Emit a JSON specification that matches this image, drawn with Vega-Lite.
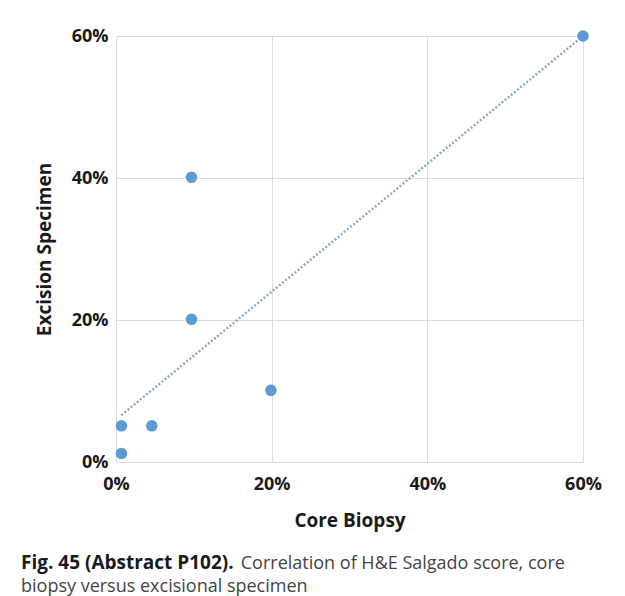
{
  "$schema": "https://vega.github.io/schema/vega-lite/v6.json",
  "width": 467,
  "height": 426,
  "autosize": "none",
  "padding": {"left": 116, "top": 36, "right": 42, "bottom": 134},
  "background": "white",
  "title": {
    "text": "Fig. 45 (Abstract P102).",
    "subtitle": ["\u200b\u00a0\u00a0\u00a0\u00a0\u00a0\u00a0\u00a0\u00a0\u00a0\u00a0\u00a0\u00a0\u00a0\u00a0\u00a0\u00a0\u00a0\u00a0\u00a0\u00a0\u00a0\u00a0\u00a0\u00a0\u00a0\u00a0\u00a0\u00a0\u00a0\u00a0\u00a0\u00a0\u00a0\u00a0\u00a0\u00a0\u00a0\u00a0\u00a0\u00a0\u00a0\u00a0\u00a0\u00a0\u00a0\u00a0\u00a0Correlation of H&E Salgado score, core", "biopsy versus excisional specimen"],
    "orient": "bottom",
    "anchor": "start",
    "frame": "group",
    "dx": -95,
    "offset": 24,
    "font": "Open Sans",
    "fontSize": 19,
    "fontWeight": "bold",
    "color": "#1a1a1a",
    "lineHeight": 22,
    "subtitleFont": "Open Sans",
    "subtitleFontSize": 18,
    "subtitleFontWeight": "normal",
    "subtitleColor": "#444444",
    "subtitleLineHeight": 23,
    "subtitlePadding": -18
  },
  "datasets": {
    "points": [
      {"core": 0.7, "excision": 1.2},
      {"core": 0.7, "excision": 5.1},
      {"core": 4.6, "excision": 5.1},
      {"core": 9.7, "excision": 20.1},
      {"core": 9.7, "excision": 40.1},
      {"core": 19.9, "excision": 10.1},
      {"core": 60, "excision": 60}
    ],
    "trend": [
      {"core": 0.7, "excision": 6.6},
      {"core": 60, "excision": 60}
    ]
  },
  "config": {
    "view": {"stroke": null},
    "axis": {
      "labelFont": "Open Sans",
      "labelFontWeight": "bold",
      "labelFontSize": 18,
      "labelColor": "#1a1a1a",
      "labelFlush": false,
      "titleFont": "Open Sans",
      "titleFontWeight": "bold",
      "titleFontSize": 19,
      "titleColor": "#1a1a1a",
      "gridColor": "#dcdcdc",
      "gridWidth": 1,
      "ticks": false,
      "domain": false
    }
  },
  "layer": [
    {
      "data": {"name": "trend"},
      "mark": {"type": "line", "color": "#8eaac6", "strokeWidth": 2.5, "strokeDash": [2, 2]},
      "encoding": {
        "x": {"field": "core", "type": "quantitative"},
        "y": {"field": "excision", "type": "quantitative"}
      }
    },
    {
      "data": {"name": "points"},
      "mark": {"type": "circle", "color": "#5b9bd5", "opacity": 1, "size": 135},
      "encoding": {
        "x": {
          "field": "core",
          "type": "quantitative",
          "scale": {"domain": [0, 60], "nice": false},
          "axis": {"values": [0, 20, 40, 60], "labelExpr": "datum.value + '%'", "labelPadding": 13, "title": "Core Biopsy", "titlePadding": 18}
        },
        "y": {
          "field": "excision",
          "type": "quantitative",
          "scale": {"domain": [0, 60], "nice": false},
          "axis": {"values": [0, 20, 40, 60], "labelExpr": "datum.value + '%'", "labelPadding": 8, "title": "Excision Specimen", "titlePadding": 17}
        }
      }
    }
  ]
}
